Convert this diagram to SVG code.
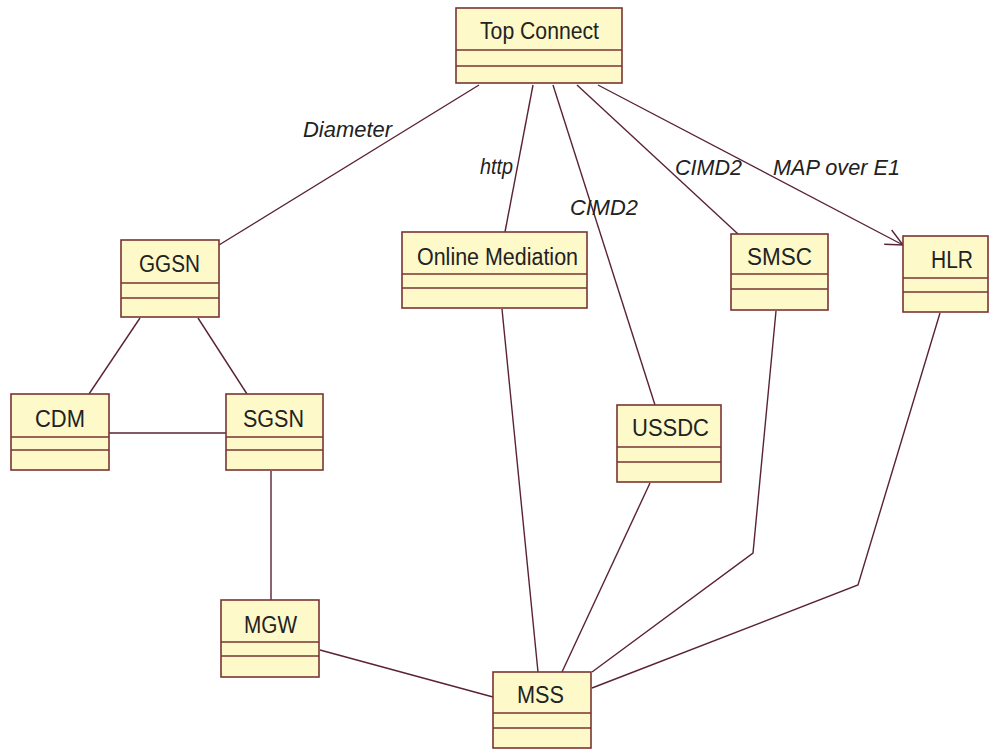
<svg xmlns="http://www.w3.org/2000/svg" width="992" height="749" viewBox="0 0 992 749">
  <style>
    .box { fill: #fdf9c9; stroke: #7a3434; stroke-width: 1.6; }
    .div { stroke: #7a3434; stroke-width: 1.6; fill: none; }
    .name { font-family: "Liberation Sans", Arial, sans-serif; font-size: 23px; fill: #222; }
    .lbl { font-family: "Liberation Sans", Arial, sans-serif; font-size: 22px; font-style: italic; fill: #222; }
    .link { stroke: #5a2238; stroke-width: 1.4; fill: none; }
  </style>
  <defs>
    <marker id="open-arrow" markerUnits="userSpaceOnUse" markerWidth="24" markerHeight="24" viewBox="-20 -12 24 24" refX="0" refY="0" orient="auto">
      <path d="M -17,-8 L 0,0 L -17,8" fill="none" stroke="#5a2238" stroke-width="1.4"/>
    </marker>
  </defs>

  <rect width="992" height="749" fill="#ffffff"/>

  <!-- connectors -->
  <g id="connectors">
    <line class="link" x1="479" y1="85" x2="219" y2="245"/>
    <line class="link" x1="533" y1="85" x2="505" y2="232"/>
    <line class="link" x1="553" y1="85" x2="655" y2="405"/>
    <line class="link" x1="577" y1="85" x2="738" y2="234"/>
    <line class="link" x1="598" y1="85" x2="903" y2="245" marker-end="url(#open-arrow)"/>
    <line class="link" x1="140" y1="318" x2="89" y2="394"/>
    <line class="link" x1="198" y1="318" x2="247" y2="394"/>
    <line class="link" x1="109" y1="433" x2="226" y2="433"/>
    <line class="link" x1="271" y1="471" x2="271" y2="600"/>
    <line class="link" x1="320" y1="650" x2="493" y2="697"/>
    <line class="link" x1="502" y1="309" x2="538" y2="672"/>
    <line class="link" x1="650" y1="483" x2="562" y2="672"/>
    <polyline class="link" points="776,311 753,553 592,672"/>
    <polyline class="link" points="940,313 858,585 592,688"/>
    <text class="lbl" x="303" y="137" textLength="89" lengthAdjust="spacingAndGlyphs">Diameter</text>
    <text class="lbl" x="480" y="174" textLength="33" lengthAdjust="spacingAndGlyphs">http</text>
    <text class="lbl" x="570" y="215" textLength="68" lengthAdjust="spacingAndGlyphs">CIMD2</text>
    <text class="lbl" x="675" y="175" textLength="67" lengthAdjust="spacingAndGlyphs">CIMD2</text>
    <text class="lbl" x="773" y="175" textLength="127" lengthAdjust="spacingAndGlyphs">MAP over E1</text>
  </g>

  <!-- nodes -->
  <g id="top-connect">
    <rect class="box" x="456" y="8" width="166" height="75"/>
    <path class="div" d="M456,50 H622 M456,66 H622"/>
    <text class="name" x="480" y="39" textLength="119" lengthAdjust="spacingAndGlyphs">Top Connect</text>
  </g>
  <g id="ggsn">
    <rect class="box" x="121" y="240" width="98" height="77"/>
    <path class="div" d="M121,283 H219 M121,298 H219"/>
    <text class="name" x="139" y="272" textLength="61" lengthAdjust="spacingAndGlyphs">GGSN</text>
  </g>
  <g id="cdm">
    <rect class="box" x="11" y="394" width="98" height="76"/>
    <path class="div" d="M11,437 H109 M11,450 H109"/>
    <text class="name" x="35" y="427" textLength="50" lengthAdjust="spacingAndGlyphs">CDM</text>
  </g>
  <g id="sgsn">
    <rect class="box" x="226" y="394" width="97" height="76"/>
    <path class="div" d="M226,437 H323 M226,450 H323"/>
    <text class="name" x="243" y="427" textLength="61" lengthAdjust="spacingAndGlyphs">SGSN</text>
  </g>
  <g id="online-mediation">
    <rect class="box" x="402" y="232" width="185" height="76"/>
    <path class="div" d="M402,274 H587 M402,288 H587"/>
    <text class="name" x="417" y="265" textLength="161" lengthAdjust="spacingAndGlyphs">Online Mediation</text>
  </g>
  <g id="smsc">
    <rect class="box" x="731" y="234" width="97" height="76"/>
    <path class="div" d="M731,274 H828 M731,289 H828"/>
    <text class="name" x="747" y="265" textLength="65" lengthAdjust="spacingAndGlyphs">SMSC</text>
  </g>
  <g id="hlr">
    <rect class="box" x="903" y="236" width="85" height="76"/>
    <path class="div" d="M903,278 H988 M903,292 H988"/>
    <text class="name" x="931" y="268" textLength="42" lengthAdjust="spacingAndGlyphs">HLR</text>
  </g>
  <g id="ussdc">
    <rect class="box" x="617" y="405" width="104" height="77"/>
    <path class="div" d="M617,447 H721 M617,462 H721"/>
    <text class="name" x="632" y="436" textLength="77" lengthAdjust="spacingAndGlyphs">USSDC</text>
  </g>
  <g id="mgw">
    <rect class="box" x="221" y="600" width="98" height="77"/>
    <path class="div" d="M221,642 H319 M221,656 H319"/>
    <text class="name" x="244" y="633" textLength="53" lengthAdjust="spacingAndGlyphs">MGW</text>
  </g>
  <g id="mss">
    <rect class="box" x="493" y="672" width="98" height="76"/>
    <path class="div" d="M493,713 H591 M493,728 H591"/>
    <text class="name" x="517" y="703" textLength="47" lengthAdjust="spacingAndGlyphs">MSS</text>
  </g>
</svg>
